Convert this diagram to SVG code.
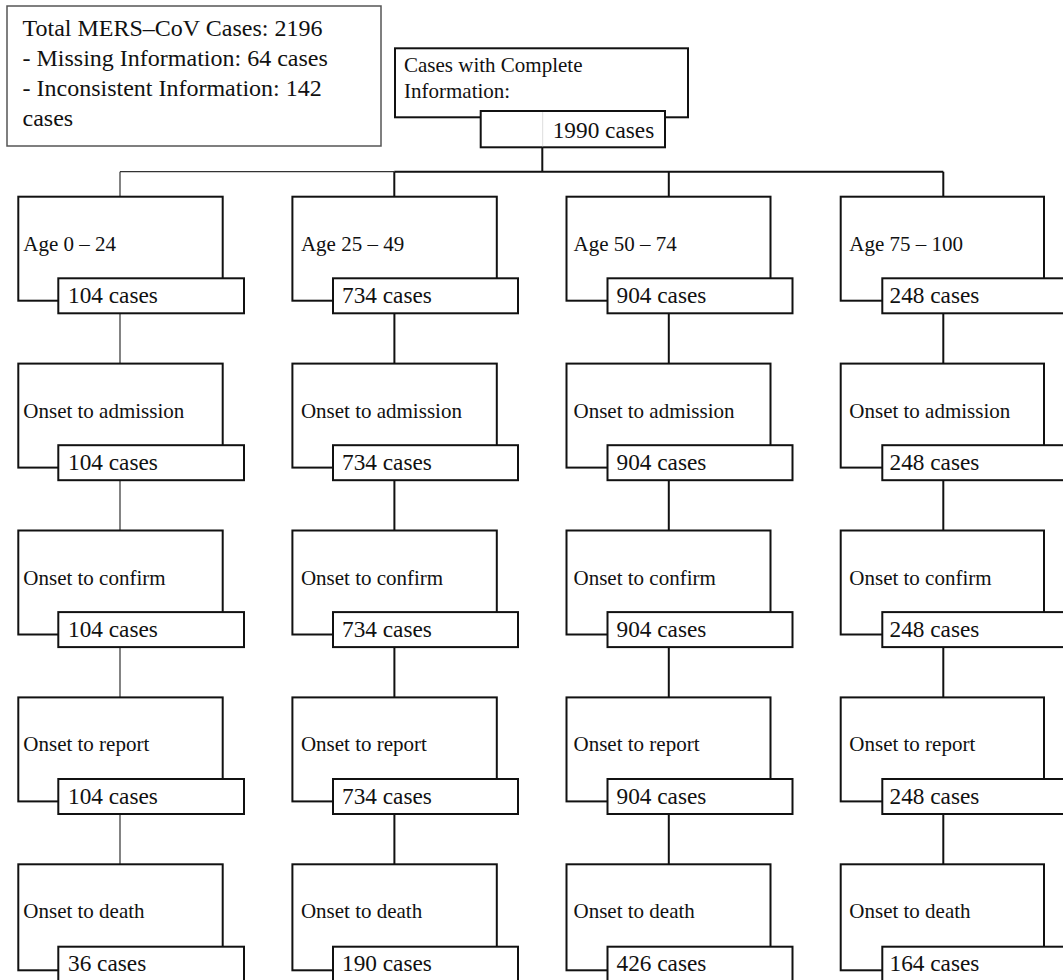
<svg xmlns="http://www.w3.org/2000/svg" width="1063" height="980" viewBox="0 0 1063 980">
<style>
text{font-family:"Liberation Serif","Times New Roman",serif;fill:#111}
.lbl{font-size:21px}
.cnt{font-size:23.3px}
.top{font-size:24px}
.box{fill:#fff;stroke:#111;stroke-width:2}
.con{fill:none;stroke:#111;stroke-width:2}
.thin{fill:none;stroke:#333;stroke-width:1.2}
</style>
<rect width="1063" height="980" fill="#fff"/>
<g id="summary">
<rect x="7" y="6" width="374" height="140" fill="#fff" stroke="#555" stroke-width="1.5"/>
<text class="top" x="22.5" y="36">Total MERS–CoV Cases: 2196</text>
<text class="top" x="22.5" y="66">- Missing Information: 64 cases</text>
<text class="top" x="22.5" y="96">- Inconsistent Information: 142</text>
<text class="top" x="22.5" y="126">cases</text>
</g>
<g id="connectors">
<path class="con" d="M542.3 147.3V171.7M394.3 171.7H943.3M394.3 171.7V196.7M668.8 171.7V196.7M943.3 171.7V196.7"/>
<path class="thin" d="M120 171.7H394.3M120 171.7V196.7"/>
<path class="thin" d="M120 313.3V363.6M120 480.5V530.5M120 647.4V697.4M120 814.3V864.3"/>
<path class="con" d="M394.4 313.3V363.6M394.4 480.5V530.5M394.4 647.4V697.4M394.4 814.3V864.3"/>
<path class="con" d="M668.8 313.3V363.6M668.8 480.5V530.5M668.8 647.4V697.4M668.8 814.3V864.3"/>
<path class="con" d="M943.3 313.3V363.6M943.3 480.5V530.5M943.3 647.4V697.4M943.3 814.3V864.3"/>
</g>
<g id="complete">
<rect class="box" x="395" y="48.3" width="293" height="69"/>
<text class="lbl" x="404" y="71.7">Cases with Complete</text>
<text class="lbl" x="404" y="97.7">Information:</text>
<rect class="box" x="480.7" y="111" width="184.3" height="36.3"/>
<line x1="542.7" y1="112" x2="542.7" y2="146.3" stroke="#ddd" stroke-width="1"/>
<text class="cnt" x="552.7" y="138.3">1990 cases</text>
</g>
<g id="c1r1"><rect class="box" x="18.3" y="196.7" width="204.4" height="104"/><rect class="box" x="58.3" y="278.3" width="185.7" height="35"/><text class="lbl" x="23.3" y="250.7">Age 0 – 24</text><text class="cnt" x="68" y="303">104 cases</text></g>
<g id="c2r1"><rect class="box" x="292.4" y="196.7" width="204.4" height="104"/><rect class="box" x="333" y="278.3" width="185" height="35"/><text class="lbl" x="300.9" y="250.7">Age 25 – 49</text><text class="cnt" x="342" y="303">734 cases</text></g>
<g id="c3r1"><rect class="box" x="566.5" y="196.7" width="204" height="104"/><rect class="box" x="607.5" y="278.3" width="185" height="35"/><text class="lbl" x="573.5" y="250.7">Age 50 – 74</text><text class="cnt" x="616.5" y="303">904 cases</text></g>
<g id="c4r1"><rect class="box" x="840.7" y="196.7" width="203.3" height="104"/><rect class="box" x="882.3" y="278.3" width="185" height="35"/><text class="lbl" x="849.3" y="250.7">Age 75 – 100</text><text class="cnt" x="889.5" y="303">248 cases</text></g>

<g id="c1r2"><rect class="box" x="18.3" y="363.6" width="204.4" height="104"/><rect class="box" x="58.3" y="445.2" width="185.7" height="35"/><text class="lbl" x="23.3" y="417.6">Onset to admission</text><text class="cnt" x="68" y="469.9">104 cases</text></g>
<g id="c2r2"><rect class="box" x="292.4" y="363.6" width="204.4" height="104"/><rect class="box" x="333" y="445.2" width="185" height="35"/><text class="lbl" x="300.9" y="417.6">Onset to admission</text><text class="cnt" x="342" y="469.9">734 cases</text></g>
<g id="c3r2"><rect class="box" x="566.5" y="363.6" width="204" height="104"/><rect class="box" x="607.5" y="445.2" width="185" height="35"/><text class="lbl" x="573.5" y="417.6">Onset to admission</text><text class="cnt" x="616.5" y="469.9">904 cases</text></g>
<g id="c4r2"><rect class="box" x="840.7" y="363.6" width="203.3" height="104"/><rect class="box" x="882.3" y="445.2" width="185" height="35"/><text class="lbl" x="849.3" y="417.6">Onset to admission</text><text class="cnt" x="889.5" y="469.9">248 cases</text></g>

<g id="c1r3"><rect class="box" x="18.3" y="530.5" width="204.4" height="104"/><rect class="box" x="58.3" y="612.1" width="185.7" height="35"/><text class="lbl" x="23.3" y="584.5">Onset to confirm</text><text class="cnt" x="68" y="636.8">104 cases</text></g>
<g id="c2r3"><rect class="box" x="292.4" y="530.5" width="204.4" height="104"/><rect class="box" x="333" y="612.1" width="185" height="35"/><text class="lbl" x="300.9" y="584.5">Onset to confirm</text><text class="cnt" x="342" y="636.8">734 cases</text></g>
<g id="c3r3"><rect class="box" x="566.5" y="530.5" width="204" height="104"/><rect class="box" x="607.5" y="612.1" width="185" height="35"/><text class="lbl" x="573.5" y="584.5">Onset to confirm</text><text class="cnt" x="616.5" y="636.8">904 cases</text></g>
<g id="c4r3"><rect class="box" x="840.7" y="530.5" width="203.3" height="104"/><rect class="box" x="882.3" y="612.1" width="185" height="35"/><text class="lbl" x="849.3" y="584.5">Onset to confirm</text><text class="cnt" x="889.5" y="636.8">248 cases</text></g>

<g id="c1r4"><rect class="box" x="18.3" y="697.4" width="204.4" height="104"/><rect class="box" x="58.3" y="779" width="185.7" height="35"/><text class="lbl" x="23.3" y="751.4">Onset to report</text><text class="cnt" x="68" y="803.7">104 cases</text></g>
<g id="c2r4"><rect class="box" x="292.4" y="697.4" width="204.4" height="104"/><rect class="box" x="333" y="779" width="185" height="35"/><text class="lbl" x="300.9" y="751.4">Onset to report</text><text class="cnt" x="342" y="803.7">734 cases</text></g>
<g id="c3r4"><rect class="box" x="566.5" y="697.4" width="204" height="104"/><rect class="box" x="607.5" y="779" width="185" height="35"/><text class="lbl" x="573.5" y="751.4">Onset to report</text><text class="cnt" x="616.5" y="803.7">904 cases</text></g>
<g id="c4r4"><rect class="box" x="840.7" y="697.4" width="203.3" height="104"/><rect class="box" x="882.3" y="779" width="185" height="35"/><text class="lbl" x="849.3" y="751.4">Onset to report</text><text class="cnt" x="889.5" y="803.7">248 cases</text></g>

<g id="c1r5"><rect class="box" x="18.3" y="864.3" width="204.4" height="106"/><rect class="box" x="58.3" y="946.7" width="185.7" height="40"/><text class="lbl" x="23.3" y="918.3">Onset to death</text><text class="cnt" x="68" y="970.6">36 cases</text></g>
<g id="c2r5"><rect class="box" x="292.4" y="864.3" width="204.4" height="106"/><rect class="box" x="333" y="946.7" width="185" height="40"/><text class="lbl" x="300.9" y="918.3">Onset to death</text><text class="cnt" x="342" y="970.6">190 cases</text></g>
<g id="c3r5"><rect class="box" x="566.5" y="864.3" width="204" height="106"/><rect class="box" x="607.5" y="946.7" width="185" height="40"/><text class="lbl" x="573.5" y="918.3">Onset to death</text><text class="cnt" x="616.5" y="970.6">426 cases</text></g>
<g id="c4r5"><rect class="box" x="840.7" y="864.3" width="203.3" height="106"/><rect class="box" x="882.3" y="946.7" width="185" height="40"/><text class="lbl" x="849.3" y="918.3">Onset to death</text><text class="cnt" x="889.5" y="970.6">164 cases</text></g>
</svg>
